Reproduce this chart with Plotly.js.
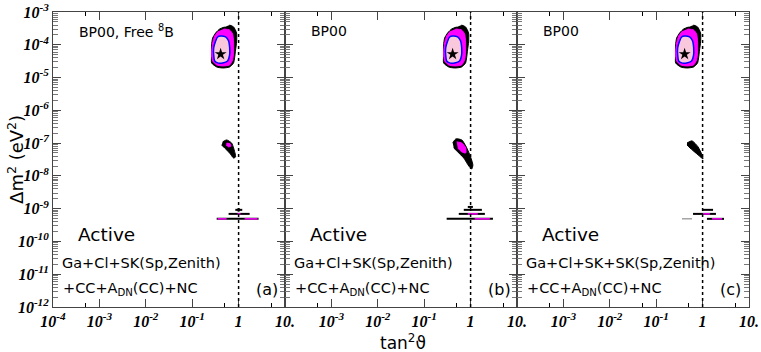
<!DOCTYPE html>
<html>
<head>
<meta charset="utf-8">
<script src="https://cdn.plot.ly/plotly-3.0.1.min.js"></script>
<style>
  html, body { margin: 0; padding: 0; background: white; }
  #chart { width: 761px; height: 352px; }
</style>
</head>
<body>
<div id="chart"></div>
<script>
// LMA island (same in all three panels): tan^2 theta and dm^2 values
var lmaBlackX = [0.64, 0.78, 0.905, 0.905, 0.86, 0.82, 0.78, 0.64, 0.453, 0.337, 0.262, 0.262, 0.262, 0.276, 0.32, 0.39, 0.50];
var lmaBlackY = [4.0e-4, 3.5e-4, 2.3e-4, 1.22e-4, 6.9e-5, 4.0e-5, 2.8e-5, 2.1e-5, 1.96e-5, 2.1e-5, 2.8e-5, 4.9e-5, 9.9e-5, 1.61e-4, 2.29e-4, 3.03e-4, 3.49e-4];
var lmaMagX = [0.476, 0.64, 0.743, 0.78, 0.78, 0.743, 0.64, 0.453, 0.337, 0.276, 0.262, 0.276, 0.305, 0.371];
var lmaMagY = [3.03e-4, 2.83e-4, 2.13e-4, 1.22e-4, 6.0e-5, 3.44e-5, 2.42e-5, 2.26e-5, 2.42e-5, 3.21e-5, 5.6e-5, 1.13e-4, 1.85e-4, 2.64e-4];
var lmaPinkX = [0.41, 0.525, 0.609, 0.64, 0.64, 0.579, 0.453, 0.353, 0.305, 0.29, 0.29, 0.32, 0.353, 0.41];
var lmaPinkY = [1.85e-4, 1.73e-4, 1.31e-4, 8.6e-5, 4.9e-5, 3.2e-5, 2.8e-5, 2.8e-5, 3.2e-5, 4.9e-5, 8.0e-5, 1.31e-4, 1.73e-4, 1.85e-4];
var bestFitX = [0.41];
var bestFitY = [5.2e-5];

// LOW island, panel (a)
var lowBlackXa = [0.453, 0.552, 0.706, 0.78, 0.861, 0.78, 0.64, 0.50, 0.43];
var lowBlackYa = [1.09e-7, 1.25e-7, 1.01e-7, 7.1e-8, 3.8e-8, 3.5e-8, 5.0e-8, 7.1e-8, 8.8e-8];
var lowMagXa = [0.55, 0.66, 0.68, 0.60, 0.54];
var lowMagYa = [1.0e-7, 9.5e-8, 8.0e-8, 7.7e-8, 8.8e-8];
// LOW island, panel (b)
var lowBlackXb = [0.412, 0.479, 0.646, 0.787, 0.961, 1.12, 1.06, 0.914, 0.713, 0.528, 0.433];
var lowBlackYb = [1.01e-7, 1.34e-7, 1.25e-7, 8.2e-8, 4.4e-8, 2.16e-8, 1.63e-8, 2.0e-8, 3.5e-8, 5.4e-8, 7.1e-8];
var lowMagXb = [0.502, 0.646, 0.787, 0.787, 0.646, 0.528];
var lowMagYb = [1.09e-7, 1.01e-7, 7.1e-8, 5.0e-8, 5.4e-8, 7.1e-8];
// LOW island, panel (c)
var lowBlackXc = [0.461, 0.592, 0.796, 0.97, 1.02, 0.796, 0.535, 0.461];
var lowBlackYc = [1.01e-7, 1.17e-7, 7.7e-8, 4.4e-8, 3.3e-8, 4.4e-8, 7.1e-8, 8.8e-8];

// VAC strips (null splits the segments)
var vacBlackXa = [0.85, 1.2, null, 1.0, 1.0, null, 0.609, 1.73, null, 0.337, 2.69];
var vacBlackYa = [9.2e-10, 9.2e-10, null, 1.05e-9, 8.1e-10, null, 6.93e-10, 6.93e-10, null, 4.89e-10, 4.89e-10];
var vacMagXa = [0.95, 1.10, null, 0.353, 0.552, null, 1.35, 2.56];
var vacMagYa = [6.93e-10, 6.93e-10, null, 4.89e-10, 4.89e-10, null, 4.89e-10, 4.89e-10];
var vacBlackXb = [0.87, 1.12, null, 0.713, 1.75, null, 0.556, 2.03, null, 0.305, 3.03];
var vacBlackYb = [1.13e-9, 1.13e-9, null, 9.2e-10, 9.2e-10, null, 6.93e-10, 6.93e-10, null, 4.89e-10, 4.89e-10];
var vacMagXb = [0.87, 1.43, null, 1.23, 2.61];
var vacMagYb = [6.93e-10, 6.93e-10, null, 4.89e-10, 4.89e-10];
var vacBlackXc = [1.02, 1.68, null, 0.622, 1.94, null, 1.24, 2.89];
var vacBlackYc = [9.2e-10, 9.2e-10, null, 6.93e-10, 6.93e-10, null, 4.89e-10, 4.89e-10];
var vacMagXc = [1.02, 1.44, null, 1.60, 2.62];
var vacMagYc = [6.93e-10, 6.93e-10, null, 4.89e-10, 4.89e-10];
var vacGrayXc = [0.36, 0.59];
var vacGrayYc = [4.89e-10, 4.89e-10];

// axis ticks
var xTickVals = [1e-4, 1e-3, 1e-2, 1e-1, 1, 10];
var xTickTextA = ['10<sup>-4</sup>', '10<sup>-3</sup>', '10<sup>-2</sup>', '10<sup>-1</sup>', '1', '10.'];
var xTickTextBC = ['', '10<sup>-3</sup>', '10<sup>-2</sup>', '10<sup>-1</sup>', '1', '10.'];
var xMinorAB = [5e-4, 0.5, 5];
var xMinorC = [5e-4, 5e-2, 0.5, 5];
var yTickVals = [1e-12, 1e-11, 1e-10, 1e-9, 1e-8, 1e-7, 1e-6, 1e-5, 1e-4, 1e-3];
var yTickText = ['10<sup>-12</sup>', '10<sup>-11</sup>', '10<sup>-10</sup>', '10<sup>-9</sup>', '10<sup>-8</sup>',
  '10<sup>-7</sup>', '10<sup>-6</sup>', '10<sup>-5</sup>', '10<sup>-4</sup>', '10<sup>-3</sup>'];

// panel labels
var panelTags = ['(a)', '(b)', '(c)'];
var panelModels = ['BP00, Free <sup>8</sup>B', 'BP00', 'BP00'];
var panelData = ['Ga+Cl+SK(Sp,Zenith)', 'Ga+Cl+SK(Sp,Zenith)', 'Ga+Cl+SK+SK(Sp,Zenith)'];
var panelData2 = '+CC+A<sub>DN</sub>(CC)+NC';

// minor y ticks 2..9 in every decade
var yMinor = [];
for (var e = -12; e < -3; e++) {
  for (var m = 2; m <= 9; m++) yMinor.push(m * Math.pow(10, e));
}

var tickFont = { family: 'Liberation Serif', size: 16, weight: 'bold', style: 'italic', color: 'black' };

function fillTrace(x, y, xa, ya, color, line) {
  return {
    x: x, y: y, xaxis: xa, yaxis: ya, type: 'scatter', mode: 'lines',
    fill: 'toself', fillcolor: color,
    line: line || { color: color, width: 1, shape: 'spline', smoothing: 0.6 },
    hoverinfo: 'skip'
  };
}

function lineTrace(x, y, xa, ya, color, width) {
  return {
    x: x, y: y, xaxis: xa, yaxis: ya, type: 'scatter', mode: 'lines',
    line: { color: color, width: width }, connectgaps: false, hoverinfo: 'skip'
  };
}

function lmaTraces(xa, ya) {
  return [
    fillTrace(lmaBlackX, lmaBlackY, xa, ya, 'black'),
    fillTrace(lmaMagX, lmaMagY, xa, ya, '#ff00ff'),
    fillTrace(lmaPinkX, lmaPinkY, xa, ya, '#fac8dc', { color: '#0000ff', width: 1.5, shape: 'spline', smoothing: 0.6 }),
    { x: bestFitX, y: bestFitY, xaxis: xa, yaxis: ya, type: 'scatter', mode: 'markers',
      marker: { symbol: 'star', size: 9, color: 'black' }, hoverinfo: 'skip' }
  ];
}

var traces = [];
traces = traces.concat(lmaTraces('x', 'y'), lmaTraces('x2', 'y2'), lmaTraces('x3', 'y3'));
traces.push(fillTrace(lowBlackXa, lowBlackYa, 'x', 'y', 'black'));
traces.push(fillTrace(lowMagXa, lowMagYa, 'x', 'y', '#ff00ff'));
traces.push(fillTrace(lowBlackXb, lowBlackYb, 'x2', 'y2', 'black'));
traces.push(fillTrace(lowMagXb, lowMagYb, 'x2', 'y2', '#ff00ff'));
traces.push(fillTrace(lowBlackXc, lowBlackYc, 'x3', 'y3', 'black'));
traces.push(lineTrace(vacBlackXa, vacBlackYa, 'x', 'y', 'black', 2));
traces.push(lineTrace(vacMagXa, vacMagYa, 'x', 'y', '#ff00ff', 1.5));
traces.push(lineTrace(vacBlackXb, vacBlackYb, 'x2', 'y2', 'black', 2));
traces.push(lineTrace(vacMagXb, vacMagYb, 'x2', 'y2', '#ff00ff', 1.5));
traces.push(lineTrace(vacBlackXc, vacBlackYc, 'x3', 'y3', 'black', 2));
traces.push(lineTrace(vacMagXc, vacMagYc, 'x3', 'y3', '#ff00ff', 1.5));
traces.push(lineTrace(vacGrayXc, vacGrayYc, 'x3', 'y3', '#777777', 1));

function xAxis(domain, anchor, ticktext, minorVals) {
  return {
    type: 'log', domain: domain, anchor: anchor, range: [-4, 1],
    tickmode: 'array', tickvals: xTickVals, ticktext: ticktext,
    ticks: 'inside', ticklen: 8,
    showline: true, mirror: 'ticks', showgrid: false, tickfont: tickFont,
    minor: { tickmode: 'array', tickvals: minorVals, ticks: 'inside', ticklen: 4, tickcolor: 'black' }
  };
}

function yAxis(anchor, showLabels) {
  return {
    type: 'log', domain: [0, 1], anchor: anchor, range: [-12, -3],
    tickmode: 'array', tickvals: yTickVals, ticktext: yTickText, showticklabels: showLabels,
    ticks: 'inside', ticklen: 8,
    showline: true, mirror: 'ticks', showgrid: false, tickfont: tickFont,
    minor: { dtick: 'D1', ticks: 'inside', ticklen: 5, tickcolor: '#777777' }
  };
}

var textFont = { family: 'DejaVu Sans', color: 'black' };
function note(xref, x, y, text, size) {
  return { xref: xref, yref: 'paper', x: x, y: y, text: text, showarrow: false,
    xanchor: 'left', yanchor: 'middle', font: Object.assign({ size: size }, textFont) };
}

var annotations = [];
var refs = ['x domain', 'x2 domain', 'x3 domain'];
for (var i = 0; i < 3; i++) {
  annotations.push(note(refs[i], 0.105, 0.936, panelModels[i], 14));
  annotations.push(note(refs[i], 0.10, 0.245, 'Active', 18.5));
  annotations.push(note(refs[i], 0.03, 0.149, panelData[i], 14.5));
  annotations.push(note(refs[i], 0.035, 0.061, panelData2, 14.5));
  annotations.push(note(refs[i], 0.866, 0.061, panelTags[i], 16));
}
// shared axis titles
annotations.push({ xref: 'paper', yref: 'paper', x: -0.054, y: 0.5, text: 'Δm<sup>2</sup> (eV<sup>2</sup>)',
  textangle: -90, showarrow: false, xanchor: 'center', yanchor: 'middle', font: { family: 'DejaVu Sans', size: 18, color: 'black' } });
annotations.push({ xref: 'paper', yref: 'paper', x: 0.503, y: -0.12, text: 'tan<sup>2</sup>ϑ',
  showarrow: false, xanchor: 'center', yanchor: 'middle', font: { family: 'DejaVu Sans', size: 17, color: 'black' } });

// dotted lines at maximal mixing
var shapes = ['x', 'x2', 'x3'].map(function (xa, k) {
  return { type: 'line', xref: xa, yref: ['y domain', 'y2 domain', 'y3 domain'][k], x0: 1, x1: 1, y0: 0, y1: 1,
    line: { color: 'black', width: 1.5, dash: 'dot' } };
});

var layout = {
  width: 761, height: 352,
  margin: { l: 53, r: 12, t: 12, b: 45 },
  paper_bgcolor: 'white', plot_bgcolor: 'white',
  showlegend: false,
  xaxis: xAxis([0, 1 / 3], 'y', xTickTextA, xMinorAB),
  xaxis2: xAxis([1 / 3, 2 / 3], 'y2', xTickTextBC, xMinorAB),
  xaxis3: xAxis([2 / 3, 1], 'y3', xTickTextBC, xMinorC),
  yaxis: yAxis('x', true),
  yaxis2: yAxis('x2', false),
  yaxis3: yAxis('x3', false),
  annotations: annotations,
  shapes: shapes
};

Plotly.newPlot('chart', traces, layout, { displayModeBar: false, staticPlot: true });
</script>
</body>
</html>
